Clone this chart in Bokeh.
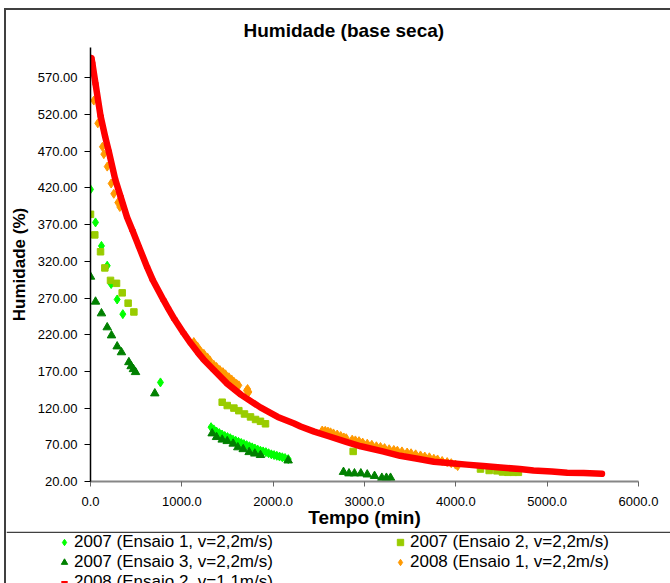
from bokeh.plotting import figure
from bokeh.layouts import column
from bokeh.models import (Range1d, FixedTicker, PrintfTickFormatter, Legend,
                          LegendItem, Span)
from bokeh.embed import file_html
from bokeh.resources import INLINE

# ---- data ----
x_ticks = [0, 1000, 2000, 3000, 4000, 5000, 6000]
y_ticks = [20, 70, 120, 170, 220, 270, 320, 370, 420, 470, 520, 570]

# 2007 (Ensaio 1, v=2,2m/s) - green diamonds
e1_2007_t = [0, 55, 120, 183, 226, 292, 354, 766,
             1320, 1350, 1380, 1410, 1440, 1470, 1500, 1530, 1560, 1590, 1620, 1650,
             1680, 1710, 1740, 1770, 1800, 1830, 1860, 1890, 1920, 1950, 1980, 2010,
             2040, 2070, 2100, 2130, 2165]
e1_2007_v = [418, 373, 341, 314, 289, 268, 248, 155,
             94, 91, 88, 86, 84, 82, 80.5, 79, 77, 75.5, 74, 72.5,
             71, 69.5, 68, 66.5, 65, 63.5, 62, 61, 60, 58.5, 57, 56,
             55, 54, 53, 52, 50.5]

# 2007 (Ensaio 2, v=2,2m/s) - yellow-green squares
e2_2007_t = [0, 47, 110, 157, 219, 285, 347, 412, 475,
             1442, 1497, 1570, 1624, 1686, 1752, 1807, 1861, 1916,
             2876, 4270, 4365, 4450, 4510, 4570, 4630, 4685]
e2_2007_v = [384, 356, 333, 311, 294, 290, 277, 263, 251,
             128, 123.5, 120, 116.5, 112, 108, 104.5, 102, 98.6,
             61, 37, 35, 34.5, 33, 32.5, 32.5, 32.5]

# 2007 (Ensaio 3, v=2,2m/s) - dark green triangles
e3_2007_t = [0, 55, 120, 183, 230, 292, 339, 420, 445, 470, 493, 704,
             1332, 1380, 1442, 1497, 1562, 1613, 1672, 1737, 1799, 1861, 2164,
             2770, 2830, 2890, 2960, 3030, 3110, 3190, 3240, 3285]
e3_2007_v = [299, 265, 249, 230, 219, 204, 196, 182.5, 177, 173, 169, 140,
             85.5, 80.5, 77, 75, 71.5, 66.5, 64, 60, 58, 56, 48.6,
             33, 31, 31, 31, 29.5, 27.5, 25, 25, 25]

# 2008 (Ensaio 1, v=2,2m/s) - orange diamonds
e1_2008_t = [0, 36, 80, 131, 146, 183, 226, 255, 299, 321,
             1131, 1170, 1204, 1241, 1280, 1307, 1350, 1380, 1416, 1450, 1478,
             1515, 1545, 1570, 1600, 1624, 1708, 1720, 1734,
             2537, 2570, 2600, 2628, 2660, 2701, 2740, 2774, 2800,
             2865, 2900, 2940, 2980, 3030, 3080, 3130, 3175, 3220, 3270, 3321,
             3360, 3410, 3467, 3510, 3560, 3613, 3660, 3710, 3759, 3800, 3850,
             3905, 3950, 3996, 4020]
e1_2008_v = [586, 539, 508, 476, 466, 449, 426, 412, 400, 394,
             210, 204, 198, 194, 189, 185, 179, 176, 172, 169, 166,
             162, 159, 156, 153, 151, 144, 146, 142,
             89.5, 89, 88, 87, 85.5, 84, 82, 80, 79,
             77, 76, 75, 73, 71.5, 70, 68, 67, 65.5, 64, 63,
             62, 61, 59.5, 58.5, 57, 55.5, 54, 53, 51, 50, 48,
             46.5, 45, 43, 41]

# 2008 (Ensaio 2, v=1,1m/s) - red
e2_2008_t = [10, 20, 55, 110, 160, 200, 270, 330, 400, 460, 530, 620, 680, 800,
             850, 920, 1020, 1100, 1180, 1240, 1350, 1500, 1650, 1860, 2050, 2230,
             2300, 2450, 2600, 2800, 2960, 3200, 3390, 3580, 3760, 3950, 4120,
             4300, 4490, 4700, 4850, 5050, 5220, 5400, 5600]
e2_2008_v = [597, 590, 562, 518, 490, 470, 432, 408, 380, 362, 340, 312, 295, 267,
             256, 241, 222, 208, 195, 186, 172, 153, 138, 121, 108, 99,
             95, 88, 82, 74, 68, 61, 55, 51, 47, 45, 43,
             41, 39, 37, 35, 33.5, 32, 31.5, 30.5]

series_labels = ["2007 (Ensaio 1, v=2,2m/s)", "2007 (Ensaio 2, v=2,2m/s)",
                 "2007 (Ensaio 3, v=2,2m/s)", "2008 (Ensaio 1, v=2,2m/s)",
                 "2008 (Ensaio 2, v=1,1m/s)"]

FONT = "Liberation Sans"
C_G1, C_G2, C_G3, C_OR, C_RED = "#00FF00", "#99CC00", "#008000", "#FF9900", "#FF0000"

# ---------------- main chart ----------------
p = figure(width=664, height=521, output_backend="svg", toolbar_location=None,
           x_range=Range1d(0, 6000), y_range=Range1d(20, 611.3),
           min_border_left=84, min_border_right=32, min_border_top=37,
           min_border_bottom=50, background_fill_color="white",
           border_fill_color="white", outline_line_color=None)
p.frame_align = False

p.title.text = "Humidade (base seca)"
p.title.text_font = FONT
p.title.text_font_size = "19px"
p.title.text_font_style = "bold"
p.title.align = "left"
p.title.vertical_align = "top"
p.title.offset = 153
p.title.standoff = 10
p.title.text_color = "black"

p.xgrid.visible = False
p.ygrid.visible = False

p.xaxis.ticker = FixedTicker(ticks=x_ticks)
p.xaxis.formatter = PrintfTickFormatter(format="%.1f")
p.yaxis.ticker = FixedTicker(ticks=y_ticks)
p.yaxis.formatter = PrintfTickFormatter(format="%.2f")
for ax in (p.xaxis, p.yaxis):
    ax.major_label_text_font = FONT
    ax.major_label_text_font_size = "13px"
    ax.major_label_text_color = "black"
    ax.axis_label_text_font = FONT
    ax.axis_label_text_font_style = "bold"
    ax.axis_label_text_color = "black"
    ax.minor_tick_line_color = None
    ax.major_tick_in = 0

p.xaxis.axis_label = "Tempo (min)"
p.xaxis.axis_label_text_font_size = "19px"
p.xaxis.axis_line_color = "#868686"
p.xaxis.axis_line_width = 2
p.xaxis.major_tick_line_color = "#666666"
p.xaxis.major_tick_out = 5
p.xaxis.major_label_standoff = 10
p.xaxis.axis_label_standoff = -2

p.yaxis.axis_label = "Humidade (%)"
p.yaxis.axis_label_text_font_size = "17px"
p.yaxis.axis_line_color = "black"
p.yaxis.axis_line_width = 1.5
p.yaxis.major_tick_line_color = "black"
p.yaxis.major_tick_out = 6
p.yaxis.major_label_standoff = 7
p.yaxis.axis_label_standoff = 6

series = [
    (e1_2007_t, e1_2007_v, "diamond", 9, C_G1),
    (e2_2007_t, e2_2007_v, "square", 6.5, C_G2),
    (e3_2007_t, e3_2007_v, "triangle", 8.5, C_G3),
    (e1_2008_t, e1_2008_v, "diamond", 9, C_OR),
]
for t, v, mk, sz, c in series:
    p.scatter(t, v, marker=mk, size=sz, fill_color=c, line_color=c)
p.line(e2_2008_t, e2_2008_v, line_width=6.5, line_color=C_RED,
       line_join="round", line_cap="round")
p.scatter(e2_2008_t, e2_2008_v, marker="dash", size=6, line_width=3,
          line_color=C_RED)

# ---------------- legend box below the chart ----------------
# ranges chosen so that the proxy series (all values >= 20) stay out of view
p2 = figure(width=664, height=52, output_backend="svg", toolbar_location=None,
            x_range=Range1d(0, 1), y_range=Range1d(0, 1),
            x_axis_type=None, y_axis_type=None, min_border=0,
            background_fill_color="white", border_fill_color="white",
            outline_line_color=None)
p2.frame_align = False

k = []
for t, v, mk, sz, c in series:
    k.append(p2.scatter(t, v, marker=mk, fill_color=c, line_color=c))
k.append(p2.scatter(e2_2008_t, e2_2008_v, marker="dash", line_width=3,
                    line_color=C_RED))

legend = Legend(items=[
    LegendItem(label=series_labels[0], renderers=[k[0]]),
    LegendItem(label=series_labels[2], renderers=[k[2]]),
    LegendItem(label=series_labels[4], renderers=[k[4]]),
    LegendItem(label=series_labels[1], renderers=[k[1]]),
    LegendItem(label=series_labels[3], renderers=[k[3]]),
], ncols=2, orientation="vertical", location=(50, -8.5),
    padding=0, margin=0, spacing=0, glyph_width=16, glyph_height=16,
    label_standoff=2, label_width=318, label_height=18,
    label_text_font=FONT, label_text_font_size="17px", label_text_color="black",
    background_fill_alpha=0, border_line_alpha=0)
p2.add_layout(legend, "center")
p2.add_layout(Span(location=0.985, dimension="width", line_color="#404040",
                   line_width=1.5))

layout = column(p, p2, spacing=0, margin=(8, 0, 0, 4),
                styles={"border-left": "2px solid #404040",
                        "border-top": "2px solid #404040"})

open("out.html", "w").write(file_html(layout, INLINE))
